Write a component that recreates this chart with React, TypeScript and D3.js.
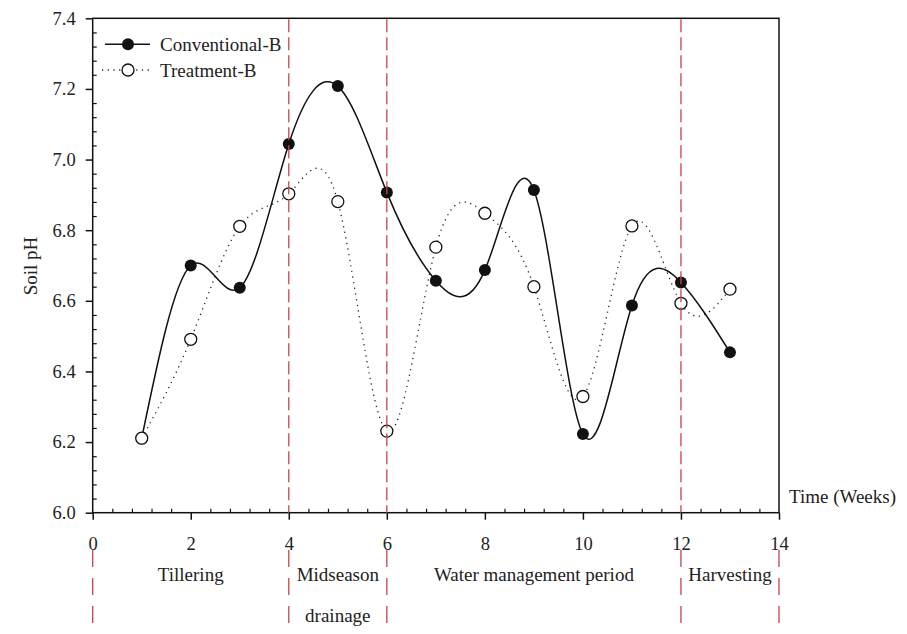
import { useEffect, useRef } from 'react';
import * as d3 from 'd3';

// values
const weeks = [1, 2, 3, 4, 5, 6, 7, 8, 9, 10, 11, 12, 13];
const conventional = [6.211, 6.70, 6.637, 7.044, 7.208, 6.907, 6.657, 6.687, 6.914, 6.223, 6.587, 6.652, 6.454];
const treatment = [6.211, 6.491, 6.811, 6.903, 6.881, 6.231, 6.752, 6.848, 6.640, 6.329, 6.812, 6.593, 6.633];

const xMajorTicks = [0, 2, 4, 6, 8, 10, 12, 14];
const yMajorTicks = [6.0, 6.2, 6.4, 6.6, 6.8, 7.0, 7.2, 7.4];
const phaseBounds = [4, 6, 12];
const phaseEdges = [0, 4, 6, 12, 14];
const phases = [
  { lines: ['Tillering'], start: 0, end: 4 },
  { lines: ['Midseason', 'drainage'], start: 4, end: 6 },
  { lines: ['Water management period'], start: 6, end: 12 },
  { lines: ['Harvesting'], start: 12, end: 14 },
];

const FONT = "'Liberation Serif', 'Times New Roman', Times, serif";
const RED = '#c4454d';

export default function App() {
  const svgRef = useRef<SVGSVGElement | null>(null);

  useEffect(() => {
    const width = 907;
    const height = 634;
    const left = 92.7, top = 18.3, right = 779, bottom = 512.7;

    const svg = d3.select(svgRef.current);
    svg.selectAll('*').remove();
    svg.attr('width', width).attr('height', height)
      .style('font-family', FONT);

    const x = d3.scaleLinear().domain([0, 14]).range([left, right]);
    const y = d3.scaleLinear().domain([6.0, 7.4]).range([bottom, top]);

    // cadre
    svg.append('rect')
      .attr('x', left).attr('y', top)
      .attr('width', right - left).attr('height', bottom - top)
      .attr('fill', 'none').attr('stroke', '#111').attr('stroke-width', 1.5);

    // petites graduations vers l'intérieur
    const xMinor = d3.range(0, 14.001, 0.4).filter(v => Math.abs(v / 2 - Math.round(v / 2)) > 1e-6);
    const yMinor = d3.range(6.0, 7.4001, 0.04).filter(v => Math.abs(v * 5 - Math.round(v * 5)) > 1e-6);

    svg.append('g')
      .attr('transform', `translate(0,${bottom})`)
      .call(d3.axisBottom(x).tickValues(xMinor).tickSize(-4).tickSizeOuter(0).tickFormat(() => ''))
      .call(g => g.select('.domain').remove())
      .selectAll('line').attr('stroke', '#111').attr('stroke-width', 1.2);

    svg.append('g')
      .attr('transform', `translate(${left},0)`)
      .call(d3.axisLeft(y).tickValues(yMinor).tickSize(-4).tickSizeOuter(0).tickFormat(() => ''))
      .call(g => g.select('.domain').remove())
      .selectAll('line').attr('stroke', '#111').attr('stroke-width', 1.2);

    // grandes graduations + libellés
    const xAxis = svg.append('g')
      .attr('transform', `translate(0,${bottom})`)
      .call(d3.axisBottom(x).tickValues(xMajorTicks).tickSize(7).tickSizeOuter(0).tickPadding(17).tickFormat(d3.format('d')));
    xAxis.select('.domain').remove();
    xAxis.selectAll('line').attr('stroke', '#111').attr('stroke-width', 1.5);
    xAxis.selectAll('text')
      .attr('font-family', null).attr('font-size', 18.5).attr('fill', '#222');

    const yAxis = svg.append('g')
      .attr('transform', `translate(${left},0)`)
      .call(d3.axisLeft(y).tickValues(yMajorTicks).tickSize(7).tickSizeOuter(0).tickPadding(10).tickFormat(d3.format('.1f')));
    yAxis.select('.domain').remove();
    yAxis.attr('font-family', null);
    xAxis.attr('font-family', null);
    yAxis.selectAll('line').attr('stroke', '#111').attr('stroke-width', 1.5);
    yAxis.selectAll('text')
      .attr('font-size', 18.5).attr('fill', '#222');

    // titres des axes
    svg.append('text')
      .attr('transform', `translate(37,266) rotate(-90)`)
      .attr('text-anchor', 'middle')
      .attr('font-size', 19).attr('fill', '#222')
      .text('Soil pH');

    svg.append('text')
      .attr('x', right + 10).attr('y', bottom - 9.5)
      .attr('font-size', 19).attr('fill', '#222')
      .text('Time (Weeks)');

    // séries
    const line = d3.line<number>()
      .x((_, i) => x(weeks[i]))
      .y(d => y(d))
      .curve(d3.curveNatural);

    svg.append('path')
      .attr('d', line(treatment))
      .attr('fill', 'none').attr('stroke', '#222')
      .attr('stroke-width', 1.3).attr('stroke-dasharray', '1.2,4.5');

    svg.append('path')
      .attr('d', line(conventional))
      .attr('fill', 'none').attr('stroke', '#111').attr('stroke-width', 1.5);

    svg.append('g').selectAll('circle')
      .data(conventional)
      .join('circle')
      .attr('cx', (_, i) => x(weeks[i]))
      .attr('cy', d => y(d))
      .attr('r', 6)
      .attr('fill', '#111');

    svg.append('g').selectAll('circle')
      .data(treatment)
      .join('circle')
      .attr('cx', (_, i) => x(weeks[i]))
      .attr('cy', d => y(d))
      .attr('r', 6)
      .attr('fill', '#fff').attr('stroke', '#111').attr('stroke-width', 1.3);

    // limites des phases dans le graphique
    svg.append('g').selectAll('line')
      .data(phaseBounds)
      .join('line')
      .attr('x1', d => x(d)).attr('x2', d => x(d))
      .attr('y1', top + 1).attr('y2', bottom)
      .attr('stroke', RED).attr('stroke-width', 1.3).attr('stroke-dasharray', '13,5');

    // limites des phases sous l'axe
    svg.append('g').selectAll('line')
      .data(phaseEdges)
      .join('line')
      .attr('x1', d => x(d)).attr('x2', d => x(d))
      .attr('y1', 550).attr('y2', height)
      .attr('stroke', RED).attr('stroke-width', 1.3).attr('stroke-dasharray', '17,11');

    // libellés des phases
    phases.forEach(p => {
      const t = svg.append('text')
        .attr('text-anchor', 'middle')
        .attr('font-size', 19).attr('fill', '#222');
      p.lines.forEach((s, i) => {
        t.append('tspan')
          .attr('x', x((p.start + p.end) / 2))
          .attr('y', 581 + i * 41)
          .text(s);
      });
    });

    // légende
    const legend = svg.append('g');
    legend.append('line')
      .attr('x1', 105).attr('x2', 150).attr('y1', 44.3).attr('y2', 44.3)
      .attr('stroke', '#111').attr('stroke-width', 1.5);
    legend.append('circle')
      .attr('cx', 128).attr('cy', 44.3).attr('r', 6).attr('fill', '#111');
    legend.append('text')
      .attr('x', 160).attr('y', 50.8)
      .attr('font-size', 19).attr('fill', '#222')
      .text('Conventional-B');

    legend.append('line')
      .attr('x1', 102).attr('x2', 149).attr('y1', 70).attr('y2', 70)
      .attr('stroke', '#222').attr('stroke-width', 1.3).attr('stroke-dasharray', '1.2,4.5');
    legend.append('circle')
      .attr('cx', 128).attr('cy', 70).attr('r', 6)
      .attr('fill', '#fff').attr('stroke', '#111').attr('stroke-width', 1.3);
    legend.append('text')
      .attr('x', 160).attr('y', 76.5)
      .attr('font-size', 19).attr('fill', '#222')
      .text('Treatment-B');
  }, []);

  return (
    <div style={{ position: 'absolute', left: 0, top: 0, width: 907, height: 634, background: '#fff' }}>
      <svg ref={svgRef} style={{ display: 'block' }}></svg>
    </div>
  );
}
